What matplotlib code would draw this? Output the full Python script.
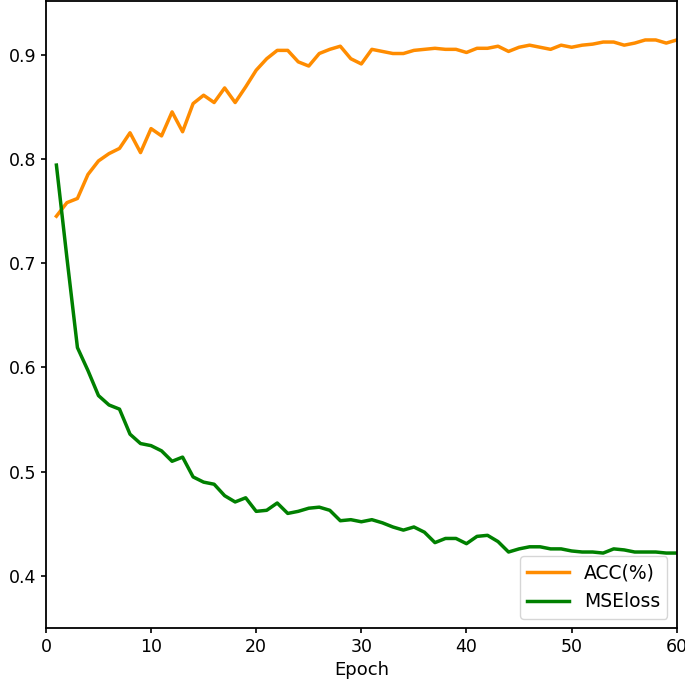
import numpy as np
import matplotlib
matplotlib.use("Agg")
import matplotlib.pyplot as plt

epochs = np.arange(1, 61)

acc = [0.745, 0.758, 0.762, 0.785, 0.798, 0.805, 0.810, 0.825, 0.806, 0.829,
       0.822, 0.845, 0.826, 0.853, 0.861, 0.854, 0.868, 0.854, 0.869, 0.885,
       0.896, 0.904, 0.904, 0.893, 0.889, 0.901, 0.905, 0.908, 0.896, 0.891,
       0.905, 0.903, 0.901, 0.901, 0.904, 0.905, 0.906, 0.905, 0.905, 0.902,
       0.906, 0.906, 0.908, 0.903, 0.907, 0.909, 0.907, 0.905, 0.909, 0.907,
       0.909, 0.910, 0.912, 0.912, 0.909, 0.911, 0.914, 0.914, 0.911, 0.914]

mse = [0.794, 0.705, 0.619, 0.597, 0.573, 0.564, 0.560, 0.536, 0.527, 0.525,
       0.520, 0.510, 0.514, 0.495, 0.490, 0.488, 0.477, 0.471, 0.475, 0.462,
       0.463, 0.470, 0.460, 0.462, 0.465, 0.466, 0.463, 0.453, 0.454, 0.452,
       0.454, 0.451, 0.447, 0.444, 0.447, 0.442, 0.432, 0.436, 0.436, 0.431,
       0.438, 0.439, 0.433, 0.423, 0.426, 0.428, 0.428, 0.426, 0.426, 0.424,
       0.423, 0.423, 0.422, 0.426, 0.425, 0.423, 0.423, 0.423, 0.422, 0.422]

fig = plt.figure(figsize=(6.85, 6.85), dpi=100)
ax = fig.add_axes([0.067, 0.083, 0.921, 0.915])

ax.plot(epochs, acc, color='darkorange', lw=2.5, label='ACC(%)')
ax.plot(epochs, mse, color='green', lw=2.5, label='MSEloss')

ax.set_xlim(0, 60)
ax.set_ylim(0.35, 0.951)
ax.set_xticks([0, 10, 20, 30, 40, 50, 60])
ax.set_yticks([0.4, 0.5, 0.6, 0.7, 0.8, 0.9])
for s in ax.spines.values():
    s.set_linewidth(1.3)
ax.tick_params(labelsize=12.5, width=1.2)
ax.set_xlabel('Epoch', fontsize=13)
ax.legend(loc='lower right', fontsize=13.5, handlelength=2.2)

plt.savefig('out.png', dpi=100)
